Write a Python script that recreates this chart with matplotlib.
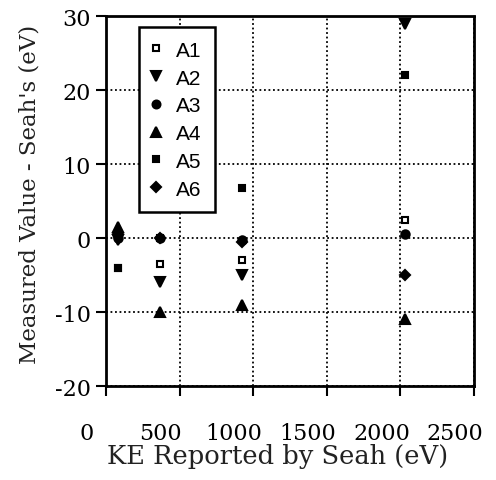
import matplotlib
matplotlib.use("Agg")
import matplotlib.pyplot as plt
import matplotlib.transforms as mtransforms

ke = [80, 365, 925, 2030]
series = {
    "A1": [-4.0, -3.5, -3.0, 2.5],
    "A2": [-0.3, -6.0, -5.0, 29.0],
    "A3": [0.0, 0.0, -0.3, 0.5],
    "A4": [1.5, -10.0, -9.0, -11.0],
    "A5": [-4.0, 0.0, 6.8, 22.0],
    "A6": [0.5, 0.0, -0.5, -5.0],
}
markers = {"A1": "s", "A2": "v", "A3": "o", "A4": "^", "A5": "s", "A6": "D"}
sizes = {"A1": 5, "A2": 7, "A3": 6, "A4": 7, "A5": 5, "A6": 5}

xticks = [0, 500, 1000, 1500, 2000, 2500]
yticks = [-20, -10, 0, 10, 20, 30]

fig = plt.figure(figsize=(4.96, 4.81), dpi=100)
ax = fig.add_axes([0.2137, 0.1954, 0.742, 0.769])

for name, vals in series.items():
    fc = "white" if name == "A1" else "black"
    ax.plot(ke, vals, linestyle="none", marker=markers[name], ms=sizes[name],
            mfc=fc, mec="black", mew=1.5, label=name)

ax.set_xlim(0, 2500)
ax.set_ylim(-20, 30)
ax.set_xticks(xticks)
ax.set_yticks(yticks)
ax.grid(True, color="black", linestyle=(0, (1, 1.5)), linewidth=1.3)
ax.set_axisbelow(True)

serif = "DejaVu Serif"
ax.set_xticklabels([str(t) for t in xticks], fontfamily=serif, fontsize=16, color="#222222")
ax.set_yticklabels([str(t) for t in yticks], fontfamily=serif, fontsize=16, color="#222222")
ax.tick_params(axis="both", direction="out", length=7, width=1.5, colors="black")
ax.tick_params(axis="x", pad=19)
ax.tick_params(axis="y", pad=4)

shift = mtransforms.ScaledTranslation(-0.19, 0, fig.dpi_scale_trans)
for lab in ax.get_xticklabels():
    lab.set_transform(lab.get_transform() + shift)

ax.set_xlabel("KE Reported by Seah (eV)", fontfamily=serif, fontsize=18.5,
              color="#222222")
ax.xaxis.set_label_coords(0.465, -0.155)
ax.set_ylabel("Measured Value - Seah's (eV)", fontfamily=serif, fontsize=16.5,
              color="#222222")
ax.yaxis.set_label_coords(-0.178, 0.52)

for s in ["left", "bottom"]:
    ax.spines[s].set_linewidth(2)
for s in ["top", "right"]:
    ax.spines[s].set_linewidth(2)
    ax.spines[s].set_linestyle((0, (1, 1)))

leg = ax.legend(loc="upper left", bbox_to_anchor=(0.09, 0.97), borderaxespad=0,
                frameon=True, fancybox=False, edgecolor="black", framealpha=1,
                prop={"family": "Liberation Sans", "size": 15},
                handletextpad=0.8, labelspacing=0.42, borderpad=0.65,
                handlelength=0.3, markerscale=0.95)
leg.get_frame().set_linewidth(1.8)

fig.savefig("out.png", dpi=100)
